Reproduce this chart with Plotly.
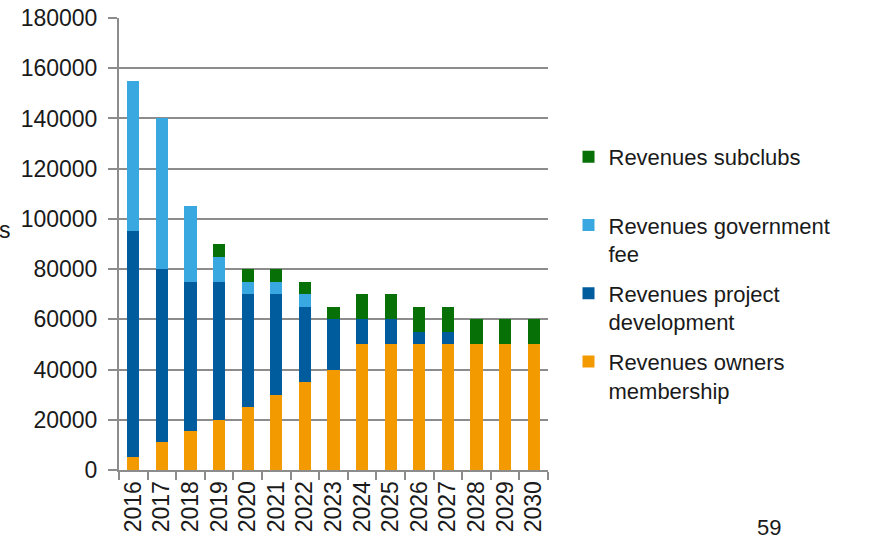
import plotly.graph_objects as go

years = ["2016", "2017", "2018", "2019", "2020", "2021", "2022", "2023",
         "2024", "2025", "2026", "2027", "2028", "2029", "2030"]
owners_membership = [5000, 11000, 15500, 20000, 25000, 30000, 35000, 40000,
                     50000, 50000, 50000, 50000, 50000, 50000, 50000]
project_development = [90000, 69000, 59500, 55000, 45000, 40000, 30000, 20000,
                       10000, 10000, 5000, 5000, 0, 0, 0]
government_fee = [60000, 60000, 30000, 10000, 5000, 5000, 5000, 0,
                  0, 0, 0, 0, 0, 0, 0]
subclubs = [0, 0, 0, 5000, 5000, 5000, 5000, 5000,
            10000, 10000, 10000, 10000, 10000, 10000, 10000]
y_ticks = [0, 20000, 40000, 60000, 80000, 100000, 120000, 140000, 160000, 180000]

FONT = "Liberation Sans, Arial, sans-serif"
GRID = "#8c8c8c"
TXT = "#1a1a1a"

W, H = 875, 540
PL, PR, PT, PB = 119, 548, 18, 470  # plot area in pixels
PW, PH = PR - PL, PB - PT

fig = go.Figure()
fig.add_trace(go.Bar(x=years, y=owners_membership, name="Revenues owners<br>membership",
                     legendgroup="a", legendrank=4,
                     marker=dict(color="#F39A00", line=dict(width=0))))
fig.add_trace(go.Bar(x=years, y=project_development, name="Revenues project<br>development",
                     legendgroup="b", legendrank=3,
                     marker=dict(color="#005C9C", line=dict(width=0))))
fig.add_trace(go.Bar(x=years, y=government_fee, name="Revenues government<br>fee",
                     legendgroup="c", legendrank=2,
                     marker=dict(color="#3AA8E0", line=dict(width=0))))
fig.add_trace(go.Bar(x=years, y=subclubs, name="Revenues subclubs<br> ",
                     legendgroup="d", legendrank=1,
                     marker=dict(color="#077107", line=dict(width=0))))

fig.update_layout(
    barmode="stack",
    bargap=0.58,
    width=W, height=H,
    margin=dict(l=PL, r=W - PR, t=PT, b=H - PB, autoexpand=False),
    paper_bgcolor="white", plot_bgcolor="white",
    font=dict(family=FONT, size=23, color=TXT),
    legend=dict(x=(568.5 - PL) / PW, xanchor="left", y=(PB - 136) / PH, yanchor="top",
                traceorder="grouped", valign="top",
                font=dict(family=FONT, size=22, color=TXT),
                itemclick=False, tracegroupgap=8),
    xaxis=dict(type="category", tickangle=-90, ticks="outside", tickson="boundaries",
               ticklen=8, tickcolor=GRID, tickwidth=2, automargin=False,
               showline=True, linecolor=GRID, linewidth=2,
               tickfont=dict(family=FONT, size=23, color=TXT)),
    yaxis=dict(range=[0, 180000], tickvals=y_ticks, tickformat="d",
               showgrid=True, gridcolor=GRID, gridwidth=2, automargin=False,
               ticks="outside", ticklen=9, tickcolor=GRID, tickwidth=2,
               ticklabelstandoff=6, ticklabeloverflow="allow",
               showline=True, linecolor=GRID, linewidth=2, zeroline=False,
               tickfont=dict(family=FONT, size=23, color=TXT)),
    annotations=[
        dict(text="s", xref="paper", yref="paper", x=(5 - PL) / PW, y=(PB - 230) / PH,
             xanchor="center", yanchor="middle", showarrow=False,
             font=dict(family=FONT, size=23, color=TXT)),
        dict(text="59", xref="paper", yref="paper", x=(769 - PL) / PW, y=(PB - 527) / PH,
             xanchor="center", yanchor="middle", showarrow=False,
             font=dict(family=FONT, size=22, color=TXT)),
    ],
)

fig.write_html("out.html", config={"displayModeBar": False},
               post_script="document.body.style.margin='0';")
